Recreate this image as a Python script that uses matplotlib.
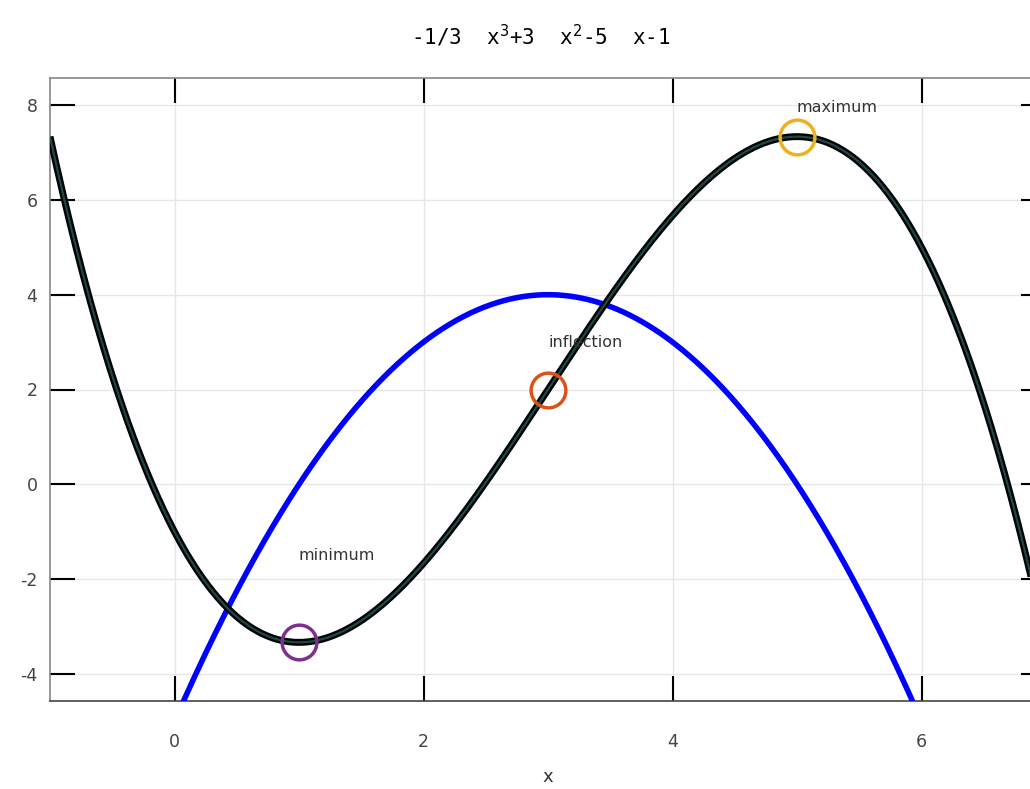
import numpy as np
import matplotlib.pyplot as plt

# polynomial -1/3 x^3 + 3 x^2 - 5 x - 1 and its derivative
coeffs = [-1 / 3, 3, -5, -1]
deriv_coeffs = [-1, 6, -5]

point_names = ["minimum", "inflection", "maximum"]
point_x = [1, 3, 5]
point_colors = ["#7E2F8E", "#D95319", "#EDB120"]
label_pos = [(1.0, -1.5), (3.0, 3.0), (5.0, 7.95)]

xticks = [0, 2, 4, 6]
yticks = [-4, -2, 0, 2, 4, 6, 8]

x = np.linspace(-1, 7, 600)
y = np.polyval(coeffs, x)
dy = np.polyval(deriv_coeffs, x)

fig = plt.figure(figsize=(10.30, 7.89), dpi=100)
ax = fig.add_axes([50 / 1030, 88 / 789, 996 / 1030, 623 / 789])

ax.plot(x, dy, color="#0000FF", lw=4, zorder=3)
ax.plot(x, y, color="black", lw=5, zorder=4, solid_capstyle="butt")
ax.plot(x, y, color="#1c4a4a", lw=1.6, zorder=5, solid_capstyle="butt")

for name, px, c, (tx, ty) in zip(point_names, point_x, point_colors, label_pos):
    ax.plot(px, np.polyval(coeffs, px), "o", ms=25, mfc="none", mec=c, mew=2.5, zorder=6)
    ax.text(tx, ty, name, ha="left", va="center", fontsize=11.5, color="#333333",
            family="DejaVu Sans", zorder=7)

ax.set_xlim(-1, 7)
ax.set_ylim(-4.57, 8.57)
ax.set_xticks(xticks)
ax.set_yticks(yticks)
ax.set_yticklabels([str(v) for v in yticks])
ax.grid(True, color="#e6e6e6", lw=1)
ax.set_axisbelow(True)

ax.tick_params(axis="both", direction="in", length=18, width=1.5, color="black",
               labelcolor="#444444", labelsize=12.5, top=True, right=True)
ax.tick_params(axis="x", pad=23)
ax.tick_params(axis="y", pad=9)

for side in ["top", "left", "right"]:
    ax.spines[side].set_color("#888888")
ax.spines["bottom"].set_color("#444444")
for s in ax.spines.values():
    s.set_linewidth(1.2)

ax.set_xlabel("x", fontsize=13, color="#333333", labelpad=12)
fig.text(0.525, 0.955, r"-1/3  x$^3$+3  x$^2$-5  x-1", ha="center", va="center",
         fontsize=15, family="DejaVu Sans Mono")

fig.savefig("out.png", dpi=100)
